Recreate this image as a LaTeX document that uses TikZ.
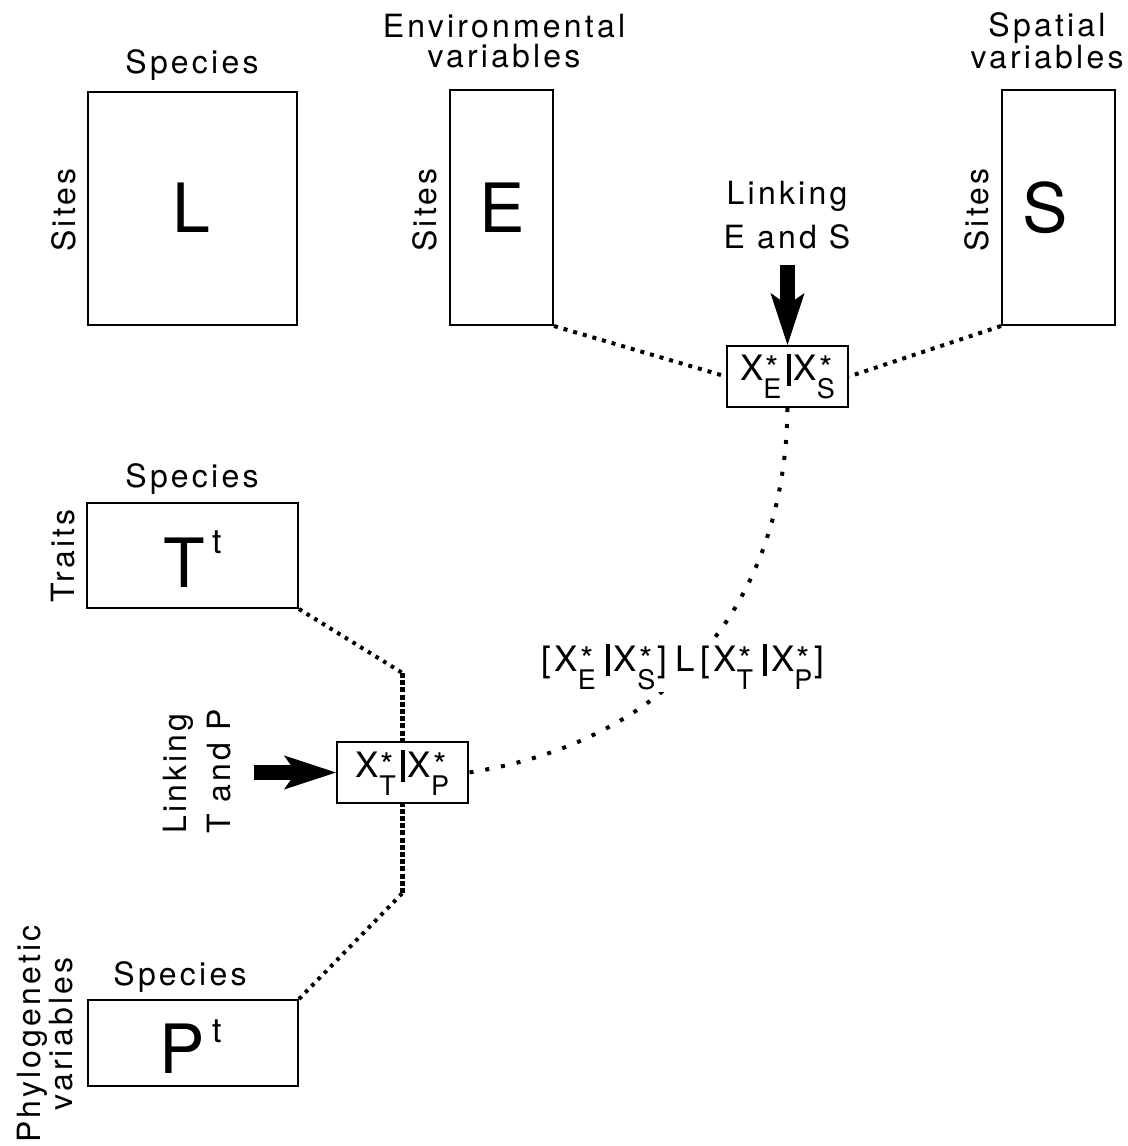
\documentclass[tikz,border=0pt]{standalone}
\usepackage{fontspec}
\setmainfont{TeX Gyre Heros}[LetterSpace=10]
\newfontfamily\plainf{TeX Gyre Heros}
\usetikzlibrary{arrows.meta}
\newcommand\xsb[1]{X\ooalign{\hfil{\fontsize{17}{17}\selectfont\raisebox{0pt}{*}}\hfil\cr\hfil{\fontsize{13.5}{13.5}\selectfont\raisebox{-9pt}{#1}}\hfil\cr}}
\newcommand\vb{\rule[-2.5pt]{2pt}{16pt}}
\begin{document}
\begin{tikzpicture}[x=0.5pt,y=-0.5pt,
  box/.style={draw, line width=1pt, inner sep=0pt},
  txt/.style={inner sep=0pt, font=\fontsize{16}{15}\selectfont},
  linktxt/.style={inner sep=0pt, font=\fontsize{16}{22}\selectfont},
  bigl/.style={inner sep=0pt, font=\plainf\fontsize{34}{34}\selectfont},
  xlab/.style={inner sep=0pt, font=\plainf\fontsize{17.5}{17.5}\selectfont},
  bigarrow/.style={line width=7.5pt, -{Stealth[length=26pt,width=17pt,inset=6pt,line width=0.5pt]}},
  dotE/.style={line width=2pt, dash pattern=on 2pt off 3pt},
  dotC/.style={line width=2pt, dash pattern=on 2pt off 6pt},
  dotD/.style={line width=2pt, dash pattern=on 1.8pt off 2.7pt},
  dotV/.style={line width=2.8pt, dash pattern=on 2.5pt off 1.1pt}]
\useasboundingbox (0,0) rectangle (1128,1146);
% boxes
\node[box, minimum width=104.5pt, minimum height=116.5pt] (L) at (192.5,208.5) {};
\node[box, minimum width=51.5pt, minimum height=117.5pt] (E) at (501.5,207.5) {};
\node[box, minimum width=56.5pt, minimum height=117.5pt] (S) at (1058.5,207.5) {};
\node[box, minimum width=105.5pt, minimum height=52.5pt] (T) at (192.5,555.5) {};
\node[box, minimum width=105pt, minimum height=43pt] (P) at (193,1043) {};
\node[box, minimum width=60.5pt, minimum height=30.5pt, xlab] (XE) at (787.5,376.5) {\xsb{E}\kern2.5pt\vb\kern1.5pt\xsb{S}};
\node[box, minimum width=65.5pt, minimum height=30.5pt, xlab] (XT) at (402.5,772.5) {\xsb{T}\kern2.5pt\vb\kern1.5pt\xsb{P}};
% big letters
\node[bigl, anchor=base] (Lt) at (191,232) {L};
\node[bigl, anchor=base] (Et) at (502,232) {E};
\node[bigl, anchor=base] (St) at (1045,232) {S};
\node[bigl, anchor=base] (Tt) at (192.5,587) {T\kern4pt\raisebox{17pt}{\fontsize{17}{17}\selectfont t}};
\node[bigl, anchor=base] (Pt) at (191,1073) {P\kern4pt\raisebox{15.5pt}{\fontsize{17}{17}\selectfont t}};
% labels
\node[txt, anchor=base] (spL) at (192,73) {Species};
\node[txt, anchor=base] (spT) at (192,487) {Species};
\node[txt, anchor=base] (spP) at (180,985) {Species};
\node[txt, align=center] (envl) at (504,41) {Environmental\\variables};
\node[txt, align=center] (spal) at (1047,41) {Spatial\\variables};
\node[txt, rotate=90] (siL) at (63.5,210) {Sites};
\node[txt, rotate=90] (siE) at (425,210) {Sites};
\node[txt, rotate=90] (siS) at (977,210) {Sites};
\node[txt, rotate=90] (trT) at (63.5,556) {Traits};
\node[txt, rotate=90, align=center] (phP) at (45,1034) {Phylogenetic\\variables};
\node[linktxt, align=center] (lES) at (787,215) {Linking\\E and S};
\node[linktxt, rotate=90, align=left] (lTP) at (197.5,771.5) {Linking\\T and P};
% connectors
\draw[dotE] (E.south east) -- (XE.west);
\draw[dotE] (S.south west) -- (XE.east);
\coordinate (tj) at (402.5,673);
\coordinate (pj) at (402.5,893);
\draw[dotD] (T.south east) -- (tj);
\draw[dotV] (tj) -- (XT.north);
\draw[dotD] (P.north east) -- (pj);
\draw[dotV] (pj) -- (XT.south);
\draw[dotC] (XE.south) .. controls (785,610) and (665,742) .. (XT.east);
\node[xlab, fill=white, inner sep=1pt] (lab) at (683,667) {[\kern1.5pt\xsb{E}\kern5pt\vb\kern2pt\xsb{S}\kern1pt]\kern4pt L\kern3pt[\kern1.5pt\xsb{T}\kern5pt\vb\kern2pt\xsb{P}\kern1pt]};
% arrows
\coordinate (aES) at (787.5,265);
\coordinate (aTP) at (254,772.5);
\draw[bigarrow] (aES) -- (XE.north);
\draw[bigarrow] (aTP) -- (XT.west);
\end{tikzpicture}
\end{document}
